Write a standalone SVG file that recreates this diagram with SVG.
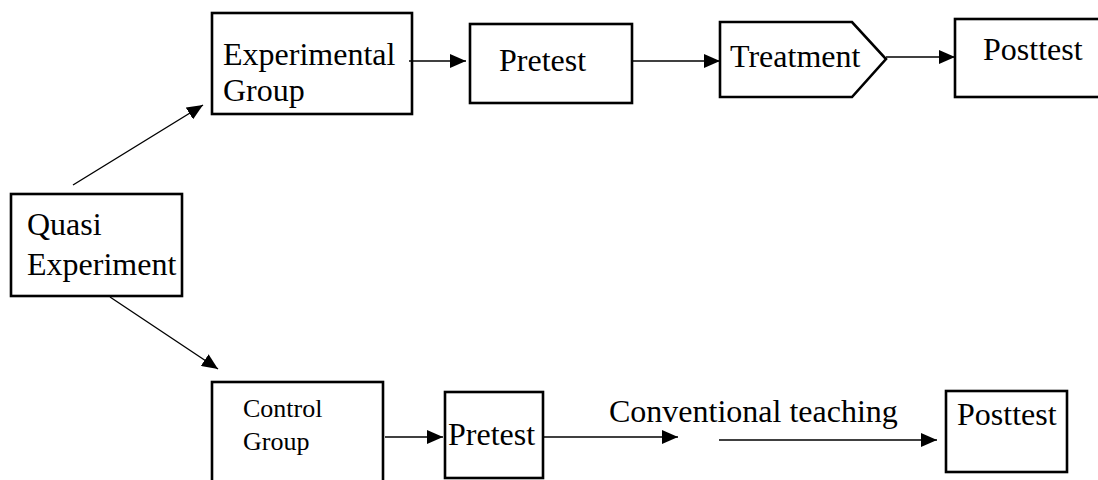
<svg xmlns="http://www.w3.org/2000/svg" width="1098" height="480" viewBox="0 0 1098 480">
<style>
.box{fill:#fff;stroke:#000;stroke-width:2.6}
.t{font-family:'Liberation Serif','DejaVu Serif',serif;font-size:32px;fill:#000}
.ts{font-family:'Liberation Serif','DejaVu Serif',serif;font-size:26px;fill:#000}
.c{stroke:#000;stroke-width:1.4;fill:none;marker-end:url(#ah)}
</style>
<defs>
<marker id="ah" viewBox="0 0 16 14" refX="16" refY="7" markerWidth="16" markerHeight="14" markerUnits="userSpaceOnUse" orient="auto">
<path d="M0,0 L16,7 L0,14 z" fill="#000"/>
</marker>
</defs>
<rect width="1098" height="480" fill="#fff"/>
<g id="quasi">
<rect class="box" x="11" y="194" width="171" height="102"/>
<text class="t" x="27" y="235">Quasi</text>
<text class="t" x="27" y="275">Experiment</text>
</g>
<g id="expgroup">
<rect class="box" x="212" y="13" width="200" height="101"/>
<text class="t" x="223" y="65">Experimental</text>
<text class="t" x="223" y="101">Group</text>
</g>
<g id="pretest1">
<rect class="box" x="470" y="24" width="162" height="79"/>
<text class="t" x="499" y="71">Pretest</text>
</g>
<g id="treatment">
<path class="box" d="M720,22 L852,22 L886,59 L852,97 L720,97 Z"/>
<text class="t" x="730" y="67">Treatment</text>
</g>
<g id="posttest1">
<rect class="box" x="955" y="19" width="160" height="78"/>
<text class="t" x="983" y="60">Posttest</text>
</g>
<g id="controlgroup">
<rect class="box" x="212" y="382" width="171" height="120"/>
<text class="ts" x="243" y="417">Control</text>
<text class="ts" x="243" y="450">Group</text>
</g>
<g id="pretest2">
<rect class="box" x="445" y="392" width="98" height="86"/>
<text class="t" x="448" y="445">Pretest</text>
</g>
<g id="posttest2">
<rect class="box" x="946" y="391" width="121" height="81"/>
<text class="t" x="957" y="425">Posttest</text>
</g>
<g id="connectors">
<line class="c" x1="73" y1="185" x2="203" y2="105"/>
<line class="c" x1="110" y1="297" x2="218" y2="369"/>
<line class="c" x1="409" y1="61" x2="466" y2="61"/>
<line class="c" x1="632" y1="61" x2="720" y2="61"/>
<line class="c" x1="886" y1="57" x2="955" y2="57"/>
<line class="c" x1="385" y1="437" x2="443" y2="437"/>
<line class="c" x1="543" y1="437" x2="678" y2="437"/>
<line class="c" x1="719" y1="440" x2="937" y2="440"/>
</g>
<text class="t" x="609" y="422">Conventional teaching</text>
</svg>
